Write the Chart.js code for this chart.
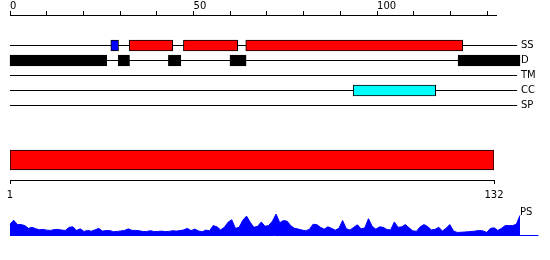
<!DOCTYPE html>
<html>
<head>
<meta charset="utf-8">
<script src="https://cdn.jsdelivr.net/npm/chart.js@4.4.0/dist/chart.umd.min.js"></script>
<style>
  body { margin: 0; background: #fff; }
  #wrap { position: relative; width: 550px; height: 260px; }
  canvas { position: absolute; left: 0; }
</style>
</head>
<body>
<div id="wrap">
  <canvas id="axisTop" width="550" height="20" style="top:0"></canvas>
  <canvas id="tracks" width="550" height="100" style="top:20px"></canvas>
  <canvas id="protein" width="550" height="75" style="top:130px"></canvas>
  <canvas id="psChart" width="550" height="45" style="top:200px"></canvas>
</div>
<script>
// top ruler
const topTicks = [0, 10, 20, 30, 40, 50, 60, 70, 80, 90, 100, 110, 120, 130];
const topTickLabels = [0, 50, 100];
const topMax = 132.4;

// feature tracks (start, end in residues)
const trackNames = ['SS', 'D', 'TM', 'CC', 'SP'];
const trackEnd = 138.3;
const ssHelix = [[32.5, 44.4], [47.3, 62.1], [64.3, 123.5]];
const ssStrand = [[27.5, 29.6]];
const disorder = [[0, 26.4], [29.5, 32.6], [43.2, 46.6], [60.0, 64.4], [122.2, 139.1]];
const coiledCoil = [[93.6, 116.1]];

// whole protein bar + its ruler
const proteinRange = [1, 132];
const bottomTicks = [1, 132];

// PS profile, one value per residue
const psLabel = 'PS';
const psValues = [
  11, 15, 10.7, 10.7, 9.7, 7, 8, 6.5, 5.7, 6,
  5.2, 5, 5.8, 6, 5.3, 5, 8, 8.5, 5, 6.5,
  4, 5, 4.2, 5.5, 7, 4.3, 4.8, 4.8, 3.7, 4,
  4.5, 5, 6.5, 5, 5, 4.7, 3.8, 4, 4.7, 3.8,
  4, 4.3, 3.8, 4, 4.7, 4.3, 4.8, 5.5, 7, 4.7,
  6.3, 4.5, 3.7, 5.3, 4.7, 9.7, 8.5, 5.5, 8, 13,
  15.5, 7, 8, 15, 19, 13, 8, 9, 13.3, 9,
  9.8, 14, 21, 12.5, 14.7, 14, 9.5, 7, 6.3, 5.3,
  4.7, 6, 11, 10.7, 8, 6.2, 8.5, 7, 5.2, 7,
  14.7, 6.7, 5.3, 8, 10.5, 6.5, 7.5, 16.5, 9, 6.2,
  8.5, 8, 5.8, 5.5, 13.3, 8, 8.5, 10.7, 7.5, 4.5,
  4.2, 8.5, 10.7, 8.8, 5.5, 6, 8, 4.5, 7, 10.7,
  4.5, 3, 3.2, 3.4, 3.7, 4, 4.4, 5, 4.5, 3,
  7, 7.5, 5, 7, 9.7, 9.7, 9.7, 11, 19.7, 0
];

Chart.defaults.font.family = 'DejaVu Sans';
Chart.defaults.font.size = 10;
Chart.defaults.color = '#000';

const noPlugins = { legend: { display: false }, tooltip: { enabled: false } };
const noGrid = { display: false, drawTicks: false, tickLength: 0 };

new Chart(document.getElementById('axisTop'), {
  type: 'line',
  data: { datasets: [] },
  options: {
    animation: false,
    responsive: false,
    layout: { padding: { left: 10, right: 54 } },
    plugins: noPlugins,
    scales: {
      x: {
        type: 'linear',
        position: 'top',
        min: 0,
        max: topMax,
        afterBuildTicks: s => { s.ticks = topTicks.map(v => ({ value: v })); },
        afterFit: s => { s.height = 15; },
        ticks: {
          align: 'start',
          padding: -1,
          autoSkip: false,
          maxRotation: 0,
          callback: v => topTickLabels.includes(v) ? String(v) : ''
        },
        grid: { drawOnChartArea: false, tickLength: 4, color: '#000' },
        border: { color: '#000' }
      },
      y: { display: false, min: 0, max: 1 }
    }
  }
});

function box(ranges, track, colour, thickness) {
  return {
    data: ranges.map(r => ({ x: r, y: track })),
    backgroundColor: colour,
    borderColor: '#000',
    borderWidth: 1,
    borderSkipped: false,
    barThickness: thickness,
    grouped: false,
    clip: false,
    order: 0
  };
}

const trackLines = trackNames.map(name => ({
  type: 'line',
  data: [{ x: 0, y: name }, { x: trackEnd, y: name }],
  borderColor: '#000',
  borderWidth: 1,
  pointRadius: 0,
  order: 1
}));

new Chart(document.getElementById('tracks'), {
  type: 'bar',
  data: {
    datasets: [
      ...trackLines,
      box(ssStrand, 'SS', '#0000ff', 11),
      box(ssHelix, 'SS', '#ff0000', 11),
      box(disorder, 'D', '#000000', 11),
      box(coiledCoil, 'CC', '#00ffff', 11)
    ]
  },
  options: {
    indexAxis: 'y',
    animation: false,
    responsive: false,
    layout: { padding: { left: 10, top: 18, bottom: 7 } },
    plugins: noPlugins,
    scales: {
      x: { type: 'linear', min: 0, max: 139.1, display: false },
      y: {
        type: 'category',
        labels: trackNames,
        offset: true,
        position: 'right',
        afterFit: s => { s.width = 30; },
        grid: noGrid,
        border: { display: false },
        ticks: { padding: 1 }
      }
    }
  }
});

new Chart(document.getElementById('protein'), {
  type: 'bar',
  data: {
    datasets: [{
      data: [{ x: proteinRange, y: 'protein' }],
      backgroundColor: '#ff0000',
      borderColor: '#000',
      borderWidth: 1,
      borderSkipped: false,
      barThickness: 20
    }]
  },
  options: {
    indexAxis: 'y',
    animation: false,
    responsive: false,
    layout: { padding: { left: 10, right: 56, top: 10 } },
    plugins: noPlugins,
    scales: {
      x: {
        type: 'linear',
        min: proteinRange[0],
        max: proteinRange[1],
        afterBuildTicks: s => { s.ticks = bottomTicks.map(v => ({ value: v })); },
        afterFit: s => { s.height = 25; },
        ticks: { padding: 5, autoSkip: false, maxRotation: 0 },
        grid: { drawOnChartArea: false, tickLength: 4, color: '#000' },
        border: { color: '#000' }
      },
      y: { type: 'category', labels: ['protein'], offset: true, display: false }
    }
  }
});

new Chart(document.getElementById('psChart'), {
  type: 'line',
  data: {
    datasets: [
      {
        data: psValues.map((v, i) => ({ x: i + 1, y: v })),
        borderColor: '#0000ff',
        backgroundColor: '#0000ff',
        borderWidth: 1,
        fill: 'origin',
        pointRadius: 0,
        tension: 0,
        clip: false
      },
      {
        data: [{ x: 1, y: 0 }, { x: 144, y: 0 }],
        borderColor: '#0000ff',
        borderWidth: 1,
        pointRadius: 0,
        clip: false
      }
    ]
  },
  options: {
    animation: false,
    responsive: false,
    layout: { padding: { left: 10, top: 10, bottom: 9.5 } },
    plugins: noPlugins,
    scales: {
      x: { type: 'linear', min: 1, max: 139, display: false },
      y: {
        type: 'linear',
        min: 0,
        max: 25,
        position: 'right',
        afterBuildTicks: s => { s.ticks = [{ value: 23 }]; },
        afterFit: s => { s.width = 30; },
        ticks: { padding: 0, callback: () => psLabel },
        grid: noGrid,
        border: { display: false }
      }
    }
  }
});
</script>
</body>
</html>
